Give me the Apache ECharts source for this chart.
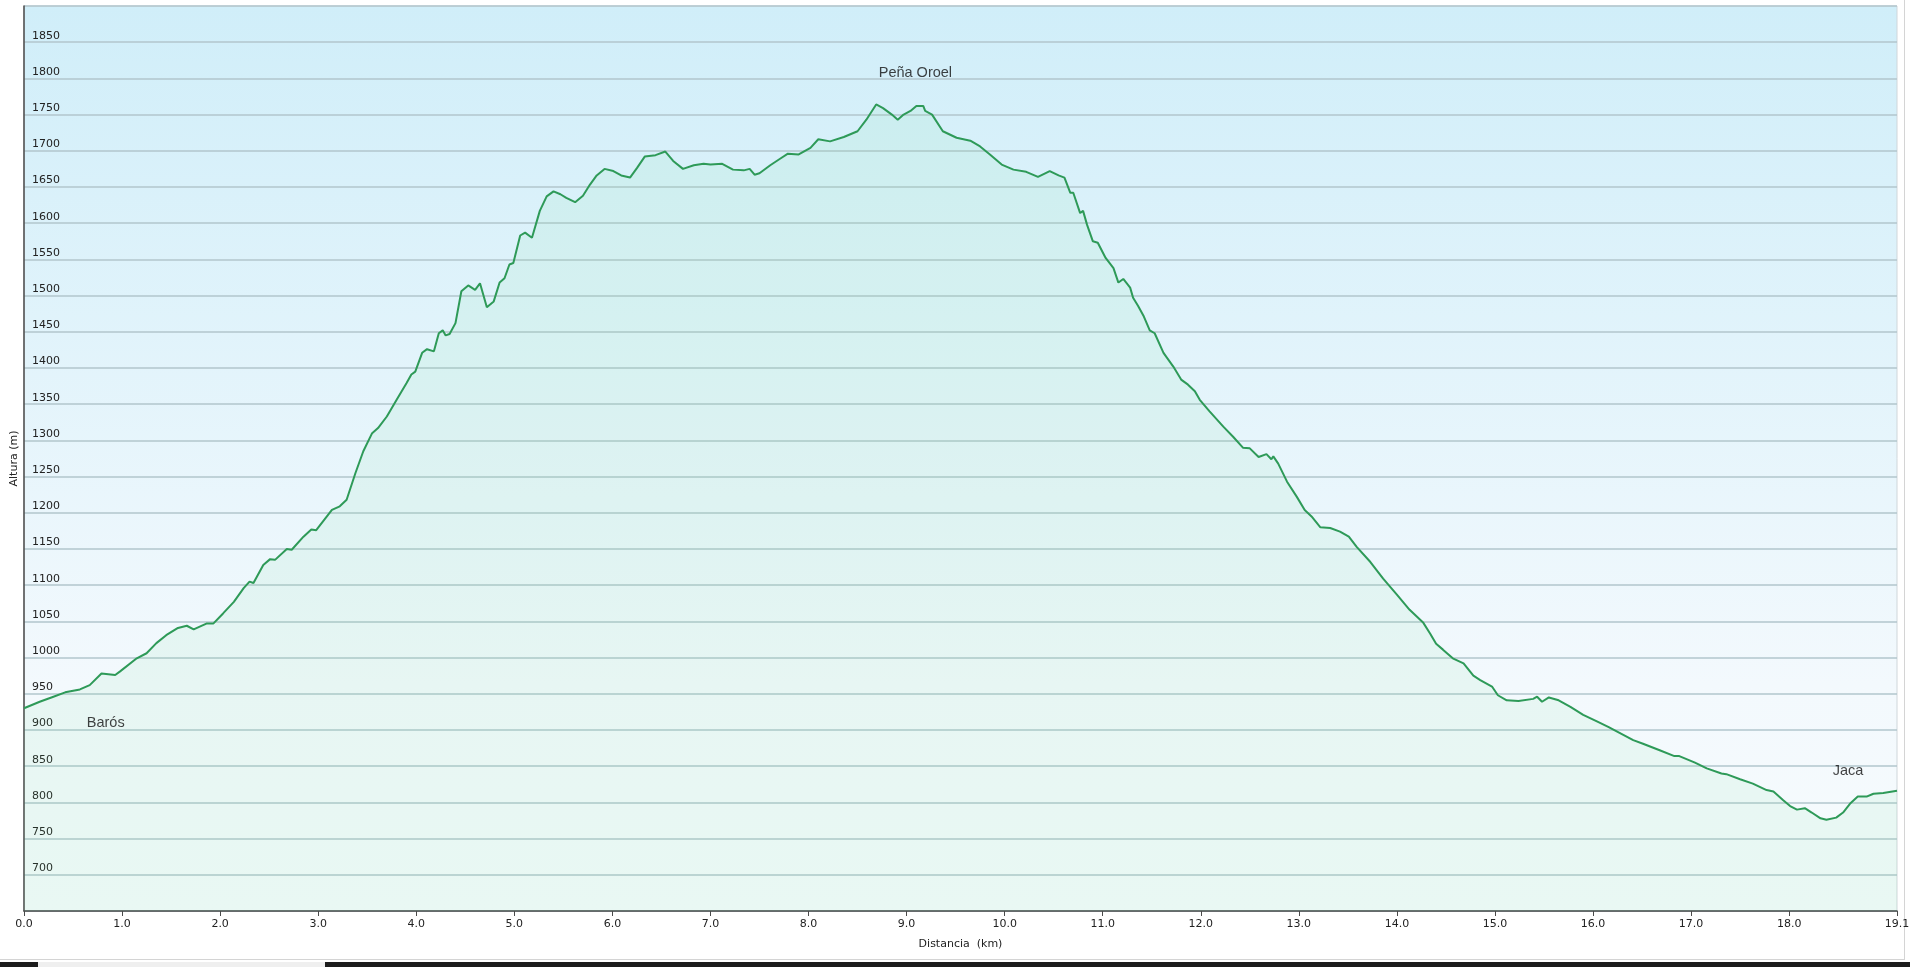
<!DOCTYPE html>
<html>
<head>
<meta charset="utf-8">
<title>Perfil Barós - Peña Oroel - Jaca</title>
<script src="https://cdn.jsdelivr.net/npm/echarts@6.0.0/dist/echarts.min.js"></script>
<style>
  html, body { margin: 0; padding: 0; background: #fff; }
  #chart { width: 1910px; height: 967px; }
</style>
</head>
<body>
<div id="chart"></div>
<script>
// distance along the track (km) and altitude (m)
const distKm = [
  0.00, 0.16, 0.30, 0.42, 0.57, 0.67, 0.79, 0.93, 0.98, 1.15, 1.25, 1.35, 1.45, 1.57, 1.66, 1.73, 1.86, 1.93,
  2.03, 2.14, 2.24, 2.30, 2.34, 2.44, 2.51, 2.56, 2.68, 2.73, 2.85, 2.93, 2.98, 3.14, 3.22, 3.29, 3.38, 3.46,
  3.55, 3.61, 3.70, 3.80, 3.90, 3.95, 3.99, 4.06, 4.11, 4.18, 4.23, 4.27, 4.30, 4.34, 4.40, 4.46, 4.53, 4.60,
  4.65, 4.72, 4.79, 4.85, 4.90, 4.95, 4.99, 5.06, 5.11, 5.18, 5.26, 5.33, 5.40, 5.47, 5.53, 5.62, 5.70, 5.77,
  5.84, 5.92, 6.01, 6.09, 6.18, 6.25, 6.33, 6.44, 6.54, 6.62, 6.72, 6.83, 6.93, 7.00, 7.12, 7.23, 7.34, 7.40,
  7.45, 7.50, 7.61, 7.71, 7.79, 7.90, 8.02, 8.10, 8.22, 8.36, 8.50, 8.59, 8.69, 8.76, 8.85, 8.91, 8.97, 9.04,
  9.10, 9.17, 9.19, 9.26, 9.37, 9.51, 9.65, 9.75, 9.85, 9.97, 10.09, 10.22, 10.34, 10.46, 10.55, 10.61, 10.67,
  10.70, 10.77, 10.80, 10.84, 10.90, 10.95, 11.03, 11.11, 11.16, 11.21, 11.28, 11.31, 11.36, 11.42, 11.48,
  11.53, 11.62, 11.72, 11.80, 11.87, 11.94, 11.99, 12.09, 12.23, 12.33, 12.43, 12.50, 12.59, 12.67, 12.72,
  12.74, 12.79, 12.88, 12.98, 13.06, 13.13, 13.22, 13.32, 13.42, 13.51, 13.59, 13.73, 13.86, 14.00, 14.13,
  14.27, 14.34, 14.40, 14.47, 14.57, 14.68, 14.78, 14.85, 14.97, 15.03, 15.12, 15.24, 15.39, 15.43, 15.48,
  15.55, 15.65, 15.77, 15.90, 16.04, 16.16, 16.41, 16.51, 16.68, 16.83, 16.88, 17.04, 17.16, 17.31, 17.36,
  17.50, 17.63, 17.77, 17.84, 17.94, 18.01, 18.08, 18.16, 18.23, 18.32, 18.38, 18.48, 18.55, 18.62, 18.70,
  18.79, 18.86, 18.96, 19.10
];
const altitudeM = [
  930, 939, 946, 952, 956, 962, 978, 976, 981, 999, 1006, 1020, 1031, 1041, 1044, 1039, 1047, 1047,
  1061, 1077, 1096, 1105, 1103, 1128, 1136, 1135, 1150, 1149, 1167, 1177, 1176, 1204, 1209, 1218, 1255, 1285,
  1310, 1317, 1333, 1356, 1379, 1391, 1395, 1421, 1426, 1423, 1448, 1452, 1445, 1447, 1462, 1506, 1514, 1508,
  1517, 1484, 1492, 1518, 1524, 1543, 1545, 1583, 1587, 1580, 1617, 1637, 1644, 1640, 1635, 1629, 1638, 1653,
  1666, 1675, 1672, 1666, 1663, 1676, 1692, 1694, 1699, 1686, 1675, 1680, 1682, 1681, 1682, 1674, 1673, 1675,
  1667, 1669, 1680, 1689, 1696, 1695, 1704, 1716, 1713, 1719, 1727, 1743, 1764, 1759, 1750, 1743, 1750, 1755,
  1762, 1762, 1755, 1750, 1727, 1718, 1714, 1706, 1695, 1681, 1674, 1671, 1664, 1672, 1666, 1663, 1642,
  1642, 1614, 1617, 1598, 1575, 1573, 1552, 1538, 1518, 1523, 1511, 1497, 1486, 1471, 1452,
  1448, 1421, 1402, 1384, 1377, 1368, 1356, 1340, 1319, 1305, 1290, 1289, 1277, 1281, 1274,
  1278, 1268, 1243, 1222, 1204, 1195, 1180, 1179, 1174, 1167, 1153, 1132, 1109, 1087, 1066,
  1048, 1033, 1019, 1011, 999, 992, 975, 969, 960, 948, 941, 940, 943, 946, 939,
  945, 941, 932, 921, 912, 904, 886, 881, 872, 864, 864, 855, 847, 840, 839,
  832, 826, 817, 815, 803, 795, 790, 792, 786, 778, 776, 779, 786, 798, 808,
  808, 812, 813, 816
];

// place names written on the profile
const placeNames = ['Barós', 'Peña Oroel', 'Jaca'];
const placeKm = [0.64, 9.09, 18.60];
const placeAlt = [910, 1807, 843];
const placeAlign = ['left', 'center', 'center'];

// tick labels
const xTickValues = [0, 1, 2, 3, 4, 5, 6, 7, 8, 9, 10, 11, 12, 13, 14, 15, 16, 17, 18, 19.1];
const yTickValues = [700, 750, 800, 850, 900, 950, 1000, 1050, 1100, 1150, 1200, 1250, 1300, 1350,
  1400, 1450, 1500, 1550, 1600, 1650, 1700, 1750, 1800, 1850];

const chart = echarts.init(document.getElementById('chart'));

const profile = distKm.map((d, i) => [d, altitudeM[i]]);
const places = placeNames.map((n, i) => ({
  name: n,
  value: [placeKm[i], placeAlt[i]],
  label: { align: placeAlign[i] }
}));

const tickFont = { fontFamily: 'DejaVu Sans', fontSize: 11, color: '#222' };

chart.setOption({
  animation: false,
  backgroundColor: '#ffffff',
  grid: {
    left: 24, right: 13, top: 6, bottom: 56,
    outerBoundsMode: 'none',
    containLabel: false,
    show: true,
    borderColor: '#cfd6da',
    borderWidth: 1,
    backgroundColor: new echarts.graphic.LinearGradient(0, 0, 0, 1, [
      { offset: 0, color: '#d0eef9' },
      { offset: 0.75, color: '#f3f9fd' },
      { offset: 1, color: '#f6fbfd' }
    ])
  },
  xAxis: {
    type: 'value',
    min: 0,
    max: 19.1,
    interval: 1,
    name: 'Distancia  (km)',
    nameLocation: 'middle',
    nameGap: 28,
    nameMoveOverlap: false,
    nameTextStyle: tickFont,
    axisLine: { show: true, onZero: false, lineStyle: { color: '#4a4a4a', width: 1.5 } },
    axisTick: { show: true, length: 5, customValues: xTickValues, lineStyle: { color: '#4a4a4a' } },
    axisLabel: Object.assign({
      margin: 8,
      customValues: xTickValues,
      formatter: (v) => v.toFixed(1)
    }, tickFont),
    splitLine: { show: false }
  },
  yAxis: {
    type: 'value',
    min: 650,
    max: 1900,
    interval: 50,
    name: 'Altura (m)',
    nameLocation: 'middle',
    nameRotate: 90,
    nameGap: 4,
    nameMoveOverlap: false,
    nameTextStyle: tickFont,
    axisLine: { show: true, lineStyle: { color: '#4a4a4a', width: 1.5 } },
    axisTick: { show: false },
    axisLabel: Object.assign({
      inside: true,
      margin: 8,
      customValues: yTickValues,
      formatter: (v) => String(v),
      verticalAlign: 'bottom',
      padding: [0, 0, 1, 0]
    }, tickFont),
    splitLine: { show: true, lineStyle: { color: '#b2c6cd', width: 1.5 } }
  },
  series: [
    {
      name: 'Altura',
      type: 'line',
      data: profile,
      showSymbol: false,
      smooth: false,
      lineStyle: { color: '#2e9a58', width: 2 },
      areaStyle: { color: 'rgba(110, 225, 140, 0.13)' },
      z: 3
    },
    {
      name: 'Lugares',
      type: 'scatter',
      data: places,
      symbolSize: 0,
      label: {
        show: true,
        position: 'inside',
        formatter: (p) => p.name,
        fontFamily: 'Liberation Sans',
        fontSize: 14.5,
        color: '#111'
      },
      z: 4
    }
  ],
  // window frame around the chart, as in the screenshot
  graphic: [
    { type: 'rect', shape: { x: 1904, y: 0, width: 1, height: 960 }, style: { fill: '#d4d4d4' }, silent: true },
    { type: 'rect', shape: { x: 0, y: 959, width: 1905, height: 1 }, style: { fill: '#d4d4d4' }, silent: true },
    { type: 'rect', shape: { x: 0, y: 962, width: 1910, height: 5 }, style: { fill: '#1c1c1c' }, silent: true },
    { type: 'rect', shape: { x: 38, y: 962, width: 287, height: 5 }, style: { fill: '#efefef' }, silent: true }
  ]
});
</script>
</body>
</html>
